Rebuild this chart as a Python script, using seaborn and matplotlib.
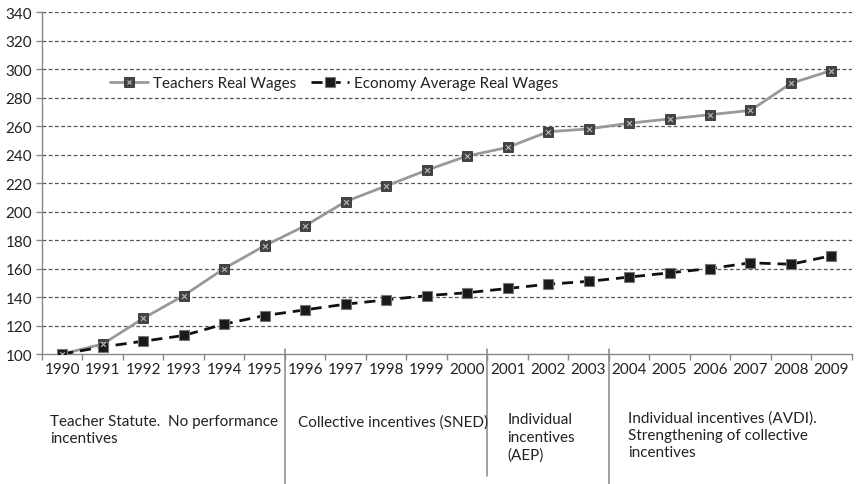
import matplotlib
matplotlib.use("Agg")
import matplotlib.pyplot as plt
from matplotlib.lines import Line2D
from matplotlib.legend_handler import HandlerTuple
import pandas as pd
import seaborn as sns

# Data (index, 1990 = 100)
years = list(range(1990, 2010))
teachers = [100, 107, 125, 141, 160, 176, 190, 207, 218, 229,
            239, 245, 256, 258, 262, 265, 268, 271, 290, 299]
economy = [100, 105, 109, 113, 121, 127, 131, 135, 138, 141,
           143, 146, 149, 151, 154, 157, 160, 164, 163, 169]

# Policy periods shown under the axis
period_labels = [
    "Teacher Statute.  No performance\nincentives",
    "Collective incentives (SNED)",
    "Individual\nincentives\n(AEP)",
    "Individual incentives (AVDI).\nStrengthening of collective\nincentives",
]
period_first_year = [1990, 1996, 2001, 2004]

df = pd.DataFrame({"Year": years, "Teachers": teachers, "Economy": economy})

sns.set_theme(style="white")
plt.rcParams["font.family"] = ["Lato", "DejaVu Sans"]

fig = plt.figure(figsize=(8.56, 4.85), dpi=100)
ax = fig.add_axes([0.049, 0.268, 0.946, 0.705])

GRAY = "#999999"
FS = 11

# Teachers: gray line, dark square markers with light cross
sns.lineplot(data=df, x="Year", y="Teachers", ax=ax, color=GRAY, linewidth=2.0,
             marker="s", markersize=6.5, markerfacecolor="#444444",
             markeredgecolor="#333333", markeredgewidth=0.6, zorder=4)
sns.scatterplot(data=df, x="Year", y="Teachers", ax=ax, marker="x", s=12,
                color="#bbbbbb", linewidth=0.8, zorder=5, legend=False)

# Economy: black dashed line, black square markers
sns.lineplot(data=df, x="Year", y="Economy", ax=ax, color="#111111", linewidth=2.0,
             linestyle=(0, (4, 2.5)), marker="s", markersize=6.5,
             markerfacecolor="#1a1a1a", markeredgecolor="#777777",
             markeredgewidth=0.8, zorder=4)

ax.set_xlim(1989.5, 2009.5)
ax.set_ylim(100, 340)
ax.set_yticks(range(100, 341, 20))
ax.set_xticks(years)
ax.set_xticklabels([str(y) for y in years])
ax.set_xlabel("")
ax.set_ylabel("")

# Category boundaries as minor ticks on the x axis
ax.set_xticks([y + 0.5 for y in years[:-1]] + [1989.5, 2009.5], minor=True)
ax.tick_params(axis="x", which="major", length=0, labelsize=FS, pad=6,
               colors="#222222")
ax.tick_params(axis="x", which="minor", length=4, width=1, color="#888888",
               direction="out", bottom=True)
ax.tick_params(axis="y", which="major", length=4, width=1, color="#888888",
               direction="out", left=True, labelsize=FS, pad=3,
               labelcolor="#222222")

# Dashed horizontal gridlines
for v in range(120, 341, 20):
    ax.axhline(v, color="#555555", linewidth=0.9, linestyle=(0, (3, 2)), zorder=1)

for side in ["top", "right"]:
    ax.spines[side].set_visible(False)
for side in ["left", "bottom"]:
    ax.spines[side].set_color("#888888")
    ax.spines[side].set_linewidth(1)

# Period separators and labels below the axis
trans = ax.get_xaxis_transform()
separator_ends = [-0.38, -0.357, -0.38]
for yr, end in zip(period_first_year[1:], separator_ends):
    ax.plot([yr - 0.5, yr - 0.5], [0.015, end], transform=trans, color="#888888",
            linewidth=1.1, clip_on=False)

label_shift = [0.2, 0.33, 0.49, 0.48]
label_tops = [-0.176, -0.176, -0.171, -0.164]
for text, yr, dx, top in zip(period_labels, period_first_year, label_shift, label_tops):
    ax.text(yr - 0.5 + dx, top, text, transform=trans,
            ha="left", va="top", fontsize=FS, color="#222222", linespacing=1.3)

# Legend
h_teach_line = Line2D([], [], color=GRAY, linewidth=2.0, marker="s", markersize=6.5,
                      markerfacecolor="#444444", markeredgecolor="#333333",
                      markeredgewidth=0.6)
h_teach_x = Line2D([], [], linestyle="none", marker="x", markersize=3.3,
                   color="#bbbbbb", markeredgewidth=0.8)
h_econ = Line2D([], [], color="#111111", linewidth=2.0, linestyle=(0, (4, 2.5)),
                marker="s", markersize=6.5, markerfacecolor="#1a1a1a",
                markeredgecolor="#777777", markeredgewidth=0.8)
ax.legend([(h_teach_line, h_teach_x), h_econ],
          ["Teachers Real Wages", "Economy Average Real Wages"],
          handler_map={tuple: HandlerTuple(ndivide=1)},
          loc="center left", bbox_to_anchor=(0.084, 0.792), ncol=2, frameon=False,
          borderpad=0, borderaxespad=0, handlelength=2.5, handletextpad=0.3,
          columnspacing=1.0, fontsize=FS, labelcolor="#222222")

fig.savefig("out.png", dpi=100)
